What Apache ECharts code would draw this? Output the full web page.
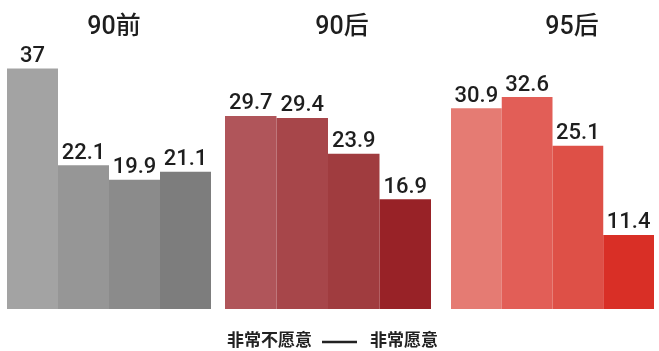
<!DOCTYPE html>
<html>
<head>
<meta charset="utf-8">
<script src="https://cdn.jsdelivr.net/npm/echarts@6/dist/echarts.min.js"></script>
<style>
  html, body { margin: 0; padding: 0; background: #fff; }
  #chart { width: 659px; height: 351px; }
</style>
</head>
<body>
<div id="chart"></div>
<script>
// Willingness levels, from "very unwilling" to "very willing"
const levels = ['1', '2', '3', '4'];
const groupNames = ['90前', '90后', '95后'];
const values90Before = [37, 22.1, 19.9, 21.1];
const values90After = [29.7, 29.4, 23.9, 16.9];
const values95After = [30.9, 32.6, 25.1, 11.4];
const legendLow = '非常不愿意';
const legendHigh = '非常愿意';

const groupValues = [values90Before, values90After, values95After];
const palettes = [
  ['#a3a3a3', '#969696', '#8b8b8b', '#7d7d7d'],
  ['#b0555a', '#a7464a', '#a03c3f', '#982227'],
  ['#e57b73', '#e25e57', '#de5047', '#d92f26']
];
const gridBoxes = [
  { left: 7, width: 204 },
  { left: 225, width: 206 },
  { left: 451, width: 203 }
];
const titleCenters = [109, 337, 567];
const fontStack = "Roboto, 'Noto Sans CJK SC', sans-serif";

const chart = echarts.init(document.getElementById('chart'), null, { renderer: 'canvas' });

const grids = gridBoxes.map(b => ({ left: b.left, width: b.width, top: 49, bottom: 42 }));
const xAxes = gridBoxes.map((b, i) => ({
  type: 'category', gridIndex: i, data: levels, show: false
}));
const yAxes = gridBoxes.map((b, i) => ({
  type: 'value', gridIndex: i, min: 0, max: 40, show: false
}));
const series = groupValues.map((vals, i) => ({
  type: 'bar',
  xAxisIndex: i,
  yAxisIndex: i,
  barWidth: '100%',
  barCategoryGap: 0,
  data: vals.map((v, j) => ({ value: v, itemStyle: { color: palettes[i][j] } })),
  label: {
    show: true,
    position: 'top',
    distance: 1,
    color: '#1e1e1e',
    fontSize: 22,
    fontWeight: 500,
    fontFamily: fontStack
  },
  silent: true
}));

const titles = groupNames.map((name, i) => ({
  text: name,
  left: titleCenters[i],
  top: 10,
  textAlign: 'center',
  textStyle: { fontSize: 25, fontWeight: 500, color: '#1e1e1e', fontFamily: fontStack }
}));

chart.setOption({
  animation: false,
  backgroundColor: '#ffffff',
  title: titles,
  grid: grids,
  xAxis: xAxes,
  yAxis: yAxes,
  series: series,
  graphic: [
    {
      type: 'text', left: 227, top: 333,
      style: { text: legendLow, fontSize: 17, fontWeight: 'bold', fill: '#222', fontFamily: fontStack }
    },
    {
      type: 'line',
      shape: { x1: 322, y1: 342, x2: 357, y2: 342 },
      style: { stroke: '#222', lineWidth: 2.5 }
    },
    {
      type: 'text', left: 370, top: 333,
      style: { text: legendHigh, fontSize: 17, fontWeight: 'bold', fill: '#222', fontFamily: fontStack }
    }
  ]
});
</script>
</body>
</html>
